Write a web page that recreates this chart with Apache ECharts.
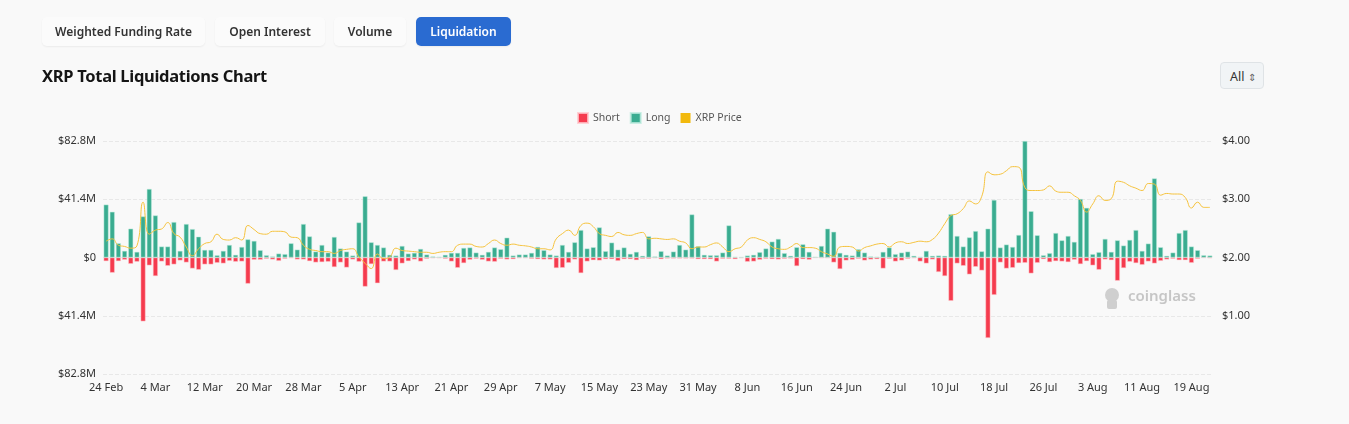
<html>
<head>
<meta charset="utf-8">
<title>XRP Total Liquidations Chart</title>
<script src="https://cdn.jsdelivr.net/npm/echarts@6/dist/echarts.min.js"></script>
<style>
  body { margin: 0; background: #f9f9f9; font-family: "Noto Sans", sans-serif; }
  #main { position: absolute; left: 0; top: 0; width: 1349px; height: 424px; }
  .tab { position: absolute; top: 17px; height: 29px; line-height: 29px; text-align: center;
         font-size: 12px; font-weight: 600; color: #333; background: #fbfbfb; border-radius: 5px;
         box-shadow: 0 1px 2px rgba(0,0,0,0.06); z-index: 2; }
  .tab.on { background: #2a6bd1; color: #fff; }
  #title { position: absolute; left: 42px; top: 64px; font-size: 16.5px; font-weight: 700; color: #151515; z-index: 2; letter-spacing: -0.3px; }
  #sel { position: absolute; left: 1220px; top: 62px; width: 44px; height: 27px; line-height: 27px; border: 1px solid #dfe3e6;
         border-radius: 4px; background: #f1f4f6; font-size: 12.5px; color: #333; z-index: 2; box-sizing: border-box; padding-left: 9px; }
</style>
</head>
<body>
<div class="tab" style="left:42px;width:163px">Weighted Funding Rate</div>
<div class="tab" style="left:215px;width:110px">Open Interest</div>
<div class="tab" style="left:334px;width:72px">Volume</div>
<div class="tab on" style="left:416px;width:95px">Liquidation</div>
<div id="title">XRP Total Liquidations Chart</div>
<div id="sel">All <span style="font-size:10px;color:#666">&#8661;</span></div>
<div id="main"></div>
<script type="text/javascript">
// long liquidations, $M, one per day from 24 Feb
var longData = [
  37.6, 32.5, 10.1, 4.7, 20.5, 4.0, 29.2, 48.7, 29.9, 7.8,
  7.8, 25.2, 4.7, 23.8, 20.2, 14.8, 5.4, 5.4, 1.6, 4.7,
  8.9, 1.9, 7.5, 12.9, 11.8, 5.2, 1.6, 0.7, 2.8, 2.4,
  10.1, 5.6, 23.8, 15.0, 4.2, 8.9, 3.5, 14.6, 6.4, 4.2,
  1.4, 24.9, 43.5, 10.8, 8.9, 7.1, 1.9, 1.4, 8.2, 2.8,
  3.3, 6.1, 2.1, 0.7, 0.5, 1.9, 3.3, 3.3, 6.8, 7.1,
  3.5, 1.9, 4.0, 7.1, 5.9, 14.1, 1.4, 2.1, 2.1, 3.3,
  7.5, 5.2, 2.1, 1.4, 8.9, 4.0, 10.8, 19.5, 6.4, 7.3,
  21.4, 4.5, 10.6, 5.6, 7.1, 2.6, 4.0, 1.2, 15.0, 0.7,
  4.5, 1.4, 4.2, 8.9, 5.6, 30.6, 8.0, 1.9, 1.6, 1.6,
  3.5, 22.8, 0.5, 0.2, 1.4, 1.9, 3.8, 6.4, 11.3, 13.2,
  3.1, 1.2, 7.3, 9.4, 4.0, 0.5, 8.2, 20.5, 18.3, 3.3,
  1.9, 1.4, 5.9, 3.5, 0.7, 0.5, 4.0, 7.1, 2.4, 3.5,
  4.2, 1.2, 0.5, 4.7, 1.2, 1.4, 1.2, 30.8, 15.3, 7.8,
  14.3, 18.8, 4.4, 20.5, 40.9, 7.1, 9.2, 7.5, 16.0, 82.8,
  32.9, 15.8, 1.6, 3.1, 17.4, 12.2, 15.3, 11.1, 41.6, 35.3,
  2.4, 3.8, 13.2, 4.0, 12.2, 8.5, 12.5, 19.5, 4.7, 9.9,
  56.2, 7.3, 1.2, 3.5, 17.4, 19.5, 7.8, 5.2, 1.6, 1.4
];
// short liquidations, $M (drawn below zero)
var shortData = [
  2.6, 10.8, 2.6, 1.6, 4.5, 3.0, 45.4, 5.6, 13.2, 2.8,
  5.9, 4.9, 2.1, 3.5, 7.8, 8.7, 4.9, 4.9, 3.8, 4.2,
  2.4, 3.0, 2.8, 18.6, 1.6, 1.6, 0.9, 1.4, 2.4, 0.9,
  0.5, 1.4, 1.4, 2.6, 3.5, 3.3, 3.0, 6.8, 3.5, 7.1,
  1.4, 3.0, 20.7, 4.7, 18.3, 2.8, 2.8, 8.9, 4.2, 2.6,
  1.4, 2.8, 0.9, 0.5, 0.5, 0.9, 2.8, 7.3, 4.0, 1.6,
  0.9, 1.6, 2.8, 3.0, 0.9, 1.4, 1.2, 0.5, 0.5, 0.9,
  1.2, 1.4, 1.4, 7.5, 7.3, 3.8, 1.4, 11.1, 2.8, 1.9,
  2.1, 1.2, 1.2, 2.4, 1.2, 1.2, 1.9, 0.9, 0.9, 0.5,
  1.2, 0.7, 0.7, 0.7, 0.7, 0.7, 1.2, 1.2, 1.2, 2.8,
  0.9, 0.9, 1.2, 0.5, 3.0, 2.8, 1.6, 0.9, 1.2, 1.4,
  0.9, 0.7, 6.1, 1.2, 1.6, 0.2, 0.5, 0.5, 3.5, 8.2,
  2.1, 1.6, 0.9, 2.1, 1.4, 1.2, 7.8, 0.9, 2.8, 2.1,
  0.9, 0.5, 2.8, 4.2, 1.4, 10.3, 13.2, 30.8, 4.2, 5.9,
  12.0, 6.6, 9.2, 57.2, 26.6, 3.5, 7.8, 7.3, 4.0, 3.8,
  11.3, 3.8, 1.2, 3.3, 2.6, 2.8, 3.3, 1.6, 4.7, 2.6,
  5.6, 8.7, 1.4, 1.9, 16.5, 7.5, 3.0, 4.0, 5.2, 2.8,
  4.2, 2.4, 1.4, 0.9, 1.9, 1.9, 3.8, 0.9, 0.2, 0.5
];
// XRP price, $
var priceData = [
  2.28, 2.32, 2.21, 2.19, 2.16, 2.20, 2.95, 2.40, 2.47, 2.49,
  2.60, 2.41, 2.35, 2.18, 2.03, 2.15, 2.24, 2.27, 2.40, 2.31,
  2.30, 2.34, 2.30, 2.55, 2.48, 2.41, 2.40, 2.45, 2.45, 2.44,
  2.35, 2.34, 2.21, 2.14, 2.12, 2.10, 2.10, 2.07, 2.12, 2.14,
  2.15, 2.01, 1.90, 1.81, 2.06, 1.98, 2.01, 2.16, 2.12, 2.11,
  2.10, 2.09, 2.09, 2.07, 2.09, 2.10, 2.10, 2.21, 2.23, 2.23,
  2.19, 2.18, 2.24, 2.30, 2.24, 2.21, 2.23, 2.21, 2.20, 2.18,
  2.15, 2.15, 2.13, 2.32, 2.41, 2.47, 2.38, 2.55, 2.59, 2.53,
  2.41, 2.38, 2.36, 2.43, 2.39, 2.38, 2.41, 2.43, 2.32, 2.33,
  2.32, 2.31, 2.32, 2.28, 2.25, 2.15, 2.18, 2.18, 2.22, 2.25,
  2.18, 2.10, 2.15, 2.18, 2.30, 2.34, 2.31, 2.27, 2.18, 2.15,
  2.14, 2.18, 2.24, 2.17, 2.17, 2.16, 2.10, 2.06, 2.02, 2.18,
  2.19, 2.18, 2.11, 2.17, 2.20, 2.23, 2.24, 2.18, 2.25, 2.27,
  2.24, 2.26, 2.28, 2.27, 2.31, 2.42, 2.58, 2.72, 2.75, 2.84,
  2.97, 2.92, 3.05, 3.47, 3.42, 3.43, 3.49, 3.56, 3.55, 3.20,
  3.15, 3.15, 3.16, 3.23, 3.14, 3.12, 3.12, 3.06, 2.98, 2.78,
  2.92, 3.06, 2.98, 3.01, 3.31, 3.29, 3.23, 3.19, 3.15, 3.27,
  3.26, 3.07, 3.10, 3.09, 3.09, 3.03, 2.85, 2.95, 2.86, 2.86
];
var monthNames = ['Jan', 'Feb', 'Mar', 'Apr', 'May', 'Jun', 'Jul', 'Aug', 'Sep', 'Oct', 'Nov', 'Dec'];

var dates = [];
for (var i = 0; i < longData.length; i++) {
    var d = new Date(2025, 1, 24 + i);
    dates.push(d.getDate() + ' ' + monthNames[d.getMonth()]);
}
var shortNeg = shortData.map(function (v) { return -v; });

var option = {
    animation: false,
    textStyle: { fontFamily: 'Noto Sans' },
    legend: {
        left: 572,
        top: 107,
        itemWidth: 10,
        itemHeight: 10,
        itemGap: 10,
        icon: 'rect',
        textStyle: { color: '#555', fontSize: 10.5 },
        data: ['Short', 'Long', 'XRP Price']
    },
    grid: { left: 103, right: 136, top: 141, bottom: 50 },
    xAxis: {
        type: 'category',
        data: dates,
        axisLine: { show: false },
        axisTick: { show: false },
        axisLabel: { interval: 7, color: '#333', fontSize: 11, margin: 8 }
    },
    yAxis: [{
        type: 'value',
        min: -82.8,
        max: 82.8,
        interval: 41.4,
        axisLabel: {
            color: '#333', fontSize: 11, margin: 7,
            formatter: function (v) { return v === 0 ? '$0' : '$' + Math.abs(v).toFixed(1) + 'M'; }
        },
        splitLine: { lineStyle: { color: '#e8e8e8', type: 'dashed' } }
    }, {
        type: 'value',
        min: 0,
        max: 4,
        interval: 1,
        axisLabel: {
            color: '#333', fontSize: 11, margin: 9,
            formatter: function (v) { return v === 0 ? '' : '$' + v.toFixed(2); }
        },
        splitLine: { show: false }
    }],
    graphic: [{
        type: 'group',
        left: 1105,
        top: 288,
        children: [
            { type: 'circle', shape: { cx: 8, cy: 7, r: 7 }, style: { fill: '#cfcfcf' } },
            { type: 'rect', shape: { x: 3, y: 12, width: 10, height: 9, r: 2 }, style: { fill: '#cfcfcf' } },
            { type: 'text', style: { x: 24, y: 1, text: 'coinglass', fill: '#c6c6c6', fontSize: 15, fontWeight: 600, fontFamily: 'Noto Sans' } }
        ]
    }],
    series: [{
        name: 'Short',
        type: 'bar',
        stack: 'liq',
        barWidth: '80%',
        itemStyle: { color: '#f53b4e', borderColor: 'rgba(255,200,205,0.8)', borderWidth: 0.6 },
        data: shortNeg
    }, {
        name: 'Long',
        type: 'bar',
        stack: 'liq',
        barWidth: '80%',
        itemStyle: { color: '#3aac90', borderColor: 'rgba(190,235,222,0.8)', borderWidth: 0.6 },
        data: longData
    }, {
        name: 'XRP Price',
        type: 'line',
        yAxisIndex: 1,
        smooth: true,
        symbol: 'none',
        itemStyle: { color: '#f2b90d' },
        lineStyle: { color: '#f5c23c', width: 1 },
        data: priceData
    }]
};

var myChart = echarts.init(document.getElementById('main'));
myChart.setOption(option);
</script>
</body>
</html>
